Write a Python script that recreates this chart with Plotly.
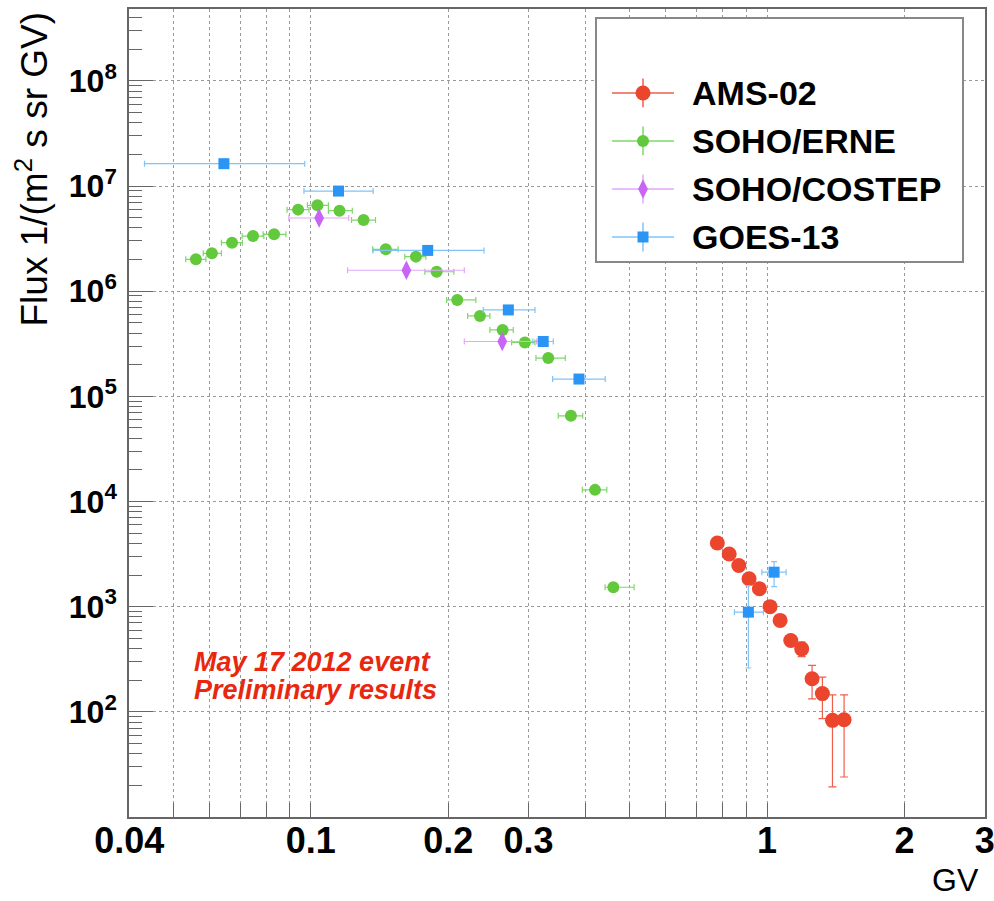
import numpy as np
import plotly.graph_objects as go

# ---- data (rigidity in GV, flux in 1/(m^2 s sr GV)) ----
# AMS-02
ams_gv = [0.778, 0.826, 0.867, 0.913, 0.962, 1.015, 1.068, 1.127, 1.191, 1.255, 1.322, 1.391, 1.475]
ams_flux = [4030, 3170, 2460, 1840, 1480, 1000, 740, 476, 397, 206, 149, 83, 84]
ams_flux_lo = [3880, 3040, 2350, 1750, 1400, 940, 690, 430, 335, 133, 86, 19.3, 24]
ams_flux_hi = [4180, 3300, 2570, 1930, 1560, 1060, 790, 525, 460, 276, 214, 145, 145]

# SOHO/ERNE
erne_gv = [0.0560, 0.0607, 0.0672, 0.0747, 0.0831, 0.0938, 0.1034, 0.1156, 0.1305, 0.146,
           0.170, 0.1887, 0.2094, 0.2348, 0.2633, 0.2946, 0.3315, 0.3716, 0.4197, 0.4603]
erne_gv_lo = [0.0532, 0.0581, 0.0637, 0.0707, 0.0786, 0.0887, 0.0983, 0.1093, 0.1228, 0.1366,
              0.1607, 0.1778, 0.1985, 0.2207, 0.2469, 0.2755, 0.3115, 0.3486, 0.3936, 0.4415]
erne_gv_hi = [0.0589, 0.0637, 0.0708, 0.0789, 0.0882, 0.0991, 0.1093, 0.1233, 0.1386, 0.1554,
              0.1787, 0.2059, 0.2300, 0.2469, 0.2778, 0.3099, 0.3612, 0.3944, 0.4454, 0.5111]
erne_flux = [2.01e6, 2.29e6, 2.89e6, 3.34e6, 3.47e6, 5.96e6, 6.55e6, 5.83e6, 4.74e6, 2.50e6,
             2.13e6, 1.53e6, 8.25e5, 5.81e5, 4.28e5, 3.25e5, 2.31e5, 6.53e4, 1.29e4, 1.53e3]

# SOHO/COSTEP
costep_gv = [0.1043, 0.162, 0.2628]
costep_gv_lo = [0.0895, 0.1204, 0.2170]
costep_gv_hi = [0.1211, 0.2170, 0.3126]
costep_flux = [4.96e6, 1.58e6, 3.32e5]

# GOES-13
goes_gv = [0.0645, 0.115, 0.1804, 0.271, 0.3231, 0.387, 0.910, 1.036]
goes_gv_lo = [0.0432, 0.0966, 0.1369, 0.2387, 0.3068, 0.3388, 0.848, 0.974]
goes_gv_hi = [0.097, 0.137, 0.2397, 0.310, 0.340, 0.4419, 0.982, 1.101]
goes_flux = [1.63e7, 8.95e6, 2.44e6, 6.63e5, 3.32e5, 1.46e5, 887, 2128]
goes_flux_lo = [1.63e7, 8.95e6, 2.44e6, 6.63e5, 3.32e5, 1.46e5, 261, 1553]
goes_flux_hi = [1.63e7, 8.95e6, 2.44e6, 6.63e5, 3.32e5, 1.46e5, 1585, 2680]

x_tick_vals = [0.04, 0.1, 0.2, 0.3, 1, 2, 3]
x_tick_text = ["0.04", "0.1", "0.2", "0.3", "1", "2", "3"]
x_minor_vals = [0.05, 0.06, 0.07, 0.08, 0.09, 0.4, 0.5, 0.6, 0.7, 0.8, 0.9]
y_decades = [2, 3, 4, 5, 6, 7, 8]

FONT = "Liberation Sans, Arial, sans-serif"
AXIS_COLOR = "#666666"
GRID_COLOR = "#9a9a9a"

# plot frame in pixels (994x901 canvas)
PL, PR, PT, PB = 129, 985, 9, 817


def px_x(p):
    return (p - PL) / (PR - PL)


def px_y(p):
    return (PB - p) / (PB - PT)


def err(center, lo, hi):
    c = np.array(center, dtype=float)
    return dict(type="data", symmetric=False,
                array=(np.array(hi, dtype=float) - c).tolist(),
                arrayminus=(c - np.array(lo, dtype=float)).tolist())


series = [
    dict(name="AMS-02", x=ams_gv, y=ams_flux, ex=None,
         ey=err(ams_flux, ams_flux_lo, ams_flux_hi),
         color="#EC452E", bar="#EE5E4C", symbol="circle", size=15, cap=4),
    dict(name="SOHO/ERNE", x=erne_gv, y=erne_flux,
         ex=err(erne_gv, erne_gv_lo, erne_gv_hi), ey=None,
         color="#62C83C", bar="#7ED86A", symbol="circle", size=12, cap=3),
    dict(name="SOHO/COSTEP", x=costep_gv, y=costep_flux,
         ex=err(costep_gv, costep_gv_lo, costep_gv_hi), ey=None,
         color="#C865F5", bar="#E2A8FC", symbol="diamond-tall", size=14, cap=3),
    dict(name="GOES-13", x=goes_gv, y=goes_flux,
         ex=err(goes_gv, goes_gv_lo, goes_gv_hi),
         ey=err(goes_flux, goes_flux_lo, goes_flux_hi),
         color="#2A95F5", bar="#80C4F8", symbol="square", size=11, cap=3),
]

fig = go.Figure()

for s in series:
    ex = dict(s["ex"], color=s["bar"], thickness=1.2, width=s["cap"]) if s["ex"] else None
    ey = dict(s["ey"], color=s["bar"], thickness=1.2, width=s["cap"]) if s["ey"] else None
    fig.add_trace(go.Scatter(
        x=s["x"], y=s["y"], mode="markers", name=s["name"], showlegend=False,
        marker=dict(color=s["color"], symbol=s["symbol"], size=s["size"], line=dict(width=0)),
        error_x=ex, error_y=ey,
    ))

# legend drawn in its own small subplot (ROOT-style TLegend)
for i, s in enumerate(series):
    fig.add_trace(go.Scatter(
        x=[46], y=[i], xaxis="x3", yaxis="y3", mode="markers", showlegend=False,
        hoverinfo="skip",
        marker=dict(color=s["color"], symbol=s["symbol"], size=s["size"], line=dict(width=0)),
        error_x=dict(type="constant", value=31, width=0, color=s["bar"], thickness=1.5),
        error_y=dict(type="constant", value=0.3, width=0, color=s["bar"], thickness=1.5),
    ))
    fig.add_annotation(x=93, y=i, xref="x3", yref="y3", text=s["name"], showarrow=False,
                       xanchor="left", yanchor="middle",
                       font=dict(family=FONT, size=34, color="black", weight="bold"))

xrange = [np.log10(0.04) - 0.0005, np.log10(3) + 0.0005]

fig.update_layout(
    width=994, height=901,
    margin=dict(l=PL, r=994 - PR, t=PT, b=901 - PB, autoexpand=False),
    paper_bgcolor="white", plot_bgcolor="white",
    showlegend=False,
    xaxis=dict(
        type="log", range=xrange, automargin=False,
        tickmode="array", tickvals=x_tick_vals, ticktext=x_tick_text,
        tickfont=dict(family=FONT, size=36, color="black", weight="bold"),
        ticks="inside", ticklen=14, tickwidth=1, tickcolor=AXIS_COLOR,
        ticklabelstandoff=-9, ticklabeloverflow="allow",
        showline=True, linecolor=AXIS_COLOR, linewidth=1.5, mirror=True,
        showgrid=True, gridcolor=GRID_COLOR, griddash="dot", gridwidth=1,
        minor=dict(tickmode="array", tickvals=x_minor_vals, ticks="inside", ticklen=14,
                   tickcolor=AXIS_COLOR, showgrid=True, gridcolor=GRID_COLOR,
                   griddash="dot", gridwidth=1),
        zeroline=False,
    ),
    xaxis2=dict(
        type="log", range=xrange, overlaying="x", anchor="y", side="bottom",
        automargin=False,
        tickmode="array", tickvals=[0.1, 1], ticks="inside", ticklen=25,
        tickcolor=AXIS_COLOR, showticklabels=False, showgrid=False, showline=False,
        zeroline=False,
    ),
    yaxis=dict(
        type="log", range=[1, 8.683], automargin=False,
        tickmode="array", tickvals=[10 ** d for d in y_decades],
        ticktext=[f"10<sup>{d}</sup>" for d in y_decades],
        tickfont=dict(family=FONT, size=32, color="black", weight="bold"),
        ticks="inside", ticklen=24, tickwidth=1, tickcolor=AXIS_COLOR,
        ticklabelstandoff=4, ticklabeloverflow="allow",
        showline=True, linecolor=AXIS_COLOR, linewidth=1.5, mirror=True,
        showgrid=True, gridcolor=GRID_COLOR, griddash="dot", gridwidth=1,
        minor=dict(tickmode="array",
                   tickvals=[k * 10 ** d for d in range(1, 9) for k in range(2, 10)],
                   ticks="inside", ticklen=13, tickcolor=AXIS_COLOR, showgrid=False),
        zeroline=False,
    ),
    xaxis3=dict(
        domain=[px_x(597), px_x(962)], range=[0, 365], anchor="y3", automargin=False,
        showgrid=False, zeroline=False, showticklabels=False, ticks="",
        showline=True, mirror=True, linecolor="#888888", linewidth=2, fixedrange=True,
    ),
    yaxis3=dict(
        domain=[px_y(261), px_y(19)], range=[3.5, -1.54], anchor="x3", automargin=False,
        showgrid=False, zeroline=False, showticklabels=False, ticks="",
        showline=True, mirror=True, linecolor="#888888", linewidth=2, fixedrange=True,
    ),
)

# axis titles (ROOT style: y title at the top, x title at the right end)
fig.add_annotation(
    text="Flux 1/(m<sup>2</sup> s sr GV)", textangle=-90,
    xref="paper", yref="paper", x=px_x(32), y=px_y(10),
    xanchor="center", yanchor="top", showarrow=False,
    font=dict(family=FONT, size=37, color="black"),
)
fig.add_annotation(
    text="GV", xref="paper", yref="paper", x=px_x(981), y=px_y(900),
    xanchor="right", yanchor="bottom", showarrow=False,
    font=dict(family=FONT, size=32, color="black"),
)

# event label
for line, ypx in [("May 17 2012 event", 662), ("Preliminary results", 690)]:
    fig.add_annotation(
        text=line, xref="paper", yref="paper", x=px_x(192), y=px_y(ypx),
        xanchor="left", yanchor="middle", showarrow=False,
        font=dict(family=FONT, size=27, color="#E8280E", weight="bold", style="italic"),
    )

# page body has a default 8px margin; drop it so the figure fills the window
fig.write_html("out.html", config={"displayModeBar": False},
               post_script="document.body.style.margin = '0px';")
